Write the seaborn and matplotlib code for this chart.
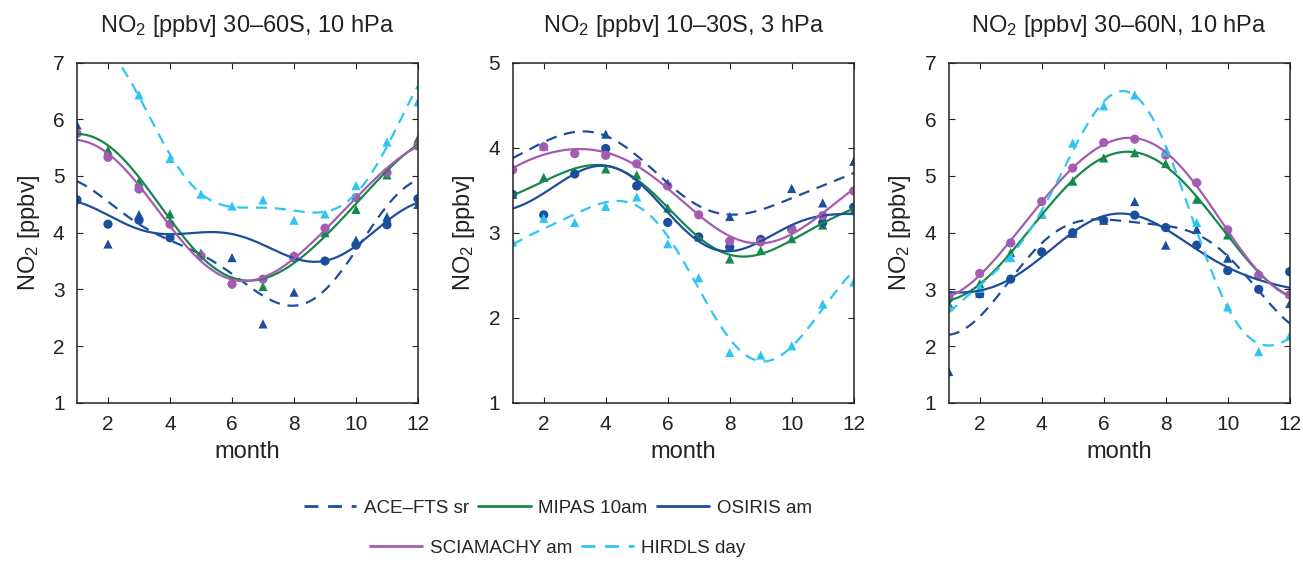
import numpy as np
import matplotlib
matplotlib.use('Agg')
import matplotlib.pyplot as plt
import seaborn as sns
from matplotlib.lines import Line2D

months = np.arange(1, 13)
nan = np.nan

titles = [r'NO$_\mathregular{2}$ [ppbv] 30–60S, 10 hPa',
          r'NO$_\mathregular{2}$ [ppbv] 10–30S, 3 hPa',
          r'NO$_\mathregular{2}$ [ppbv] 30–60N, 10 hPa']
ylims = [(1, 7), (1, 5), (1, 7)]

# 30-60S, 10 hPa
ace_1 = [5.9, 3.8, 4.32, nan, nan, 3.56, 2.39, 2.95, nan, 3.87, 4.28, 4.5]
mipas_1 = [5.8, 5.46, 4.9, 4.33, 3.64, 3.16, 3.05, 3.6, 4.0, 4.41, 5.02, 5.66]
osiris_1 = [4.58, 4.15, 4.22, 3.91, nan, nan, nan, 3.56, 3.5, 3.78, 4.14, 4.6]
sciamachy_1 = [5.75, 5.33, 4.77, 4.15, 3.59, 3.09, 3.18, 3.58, 4.08, 4.62, 5.06, 5.53]
hirdls_1 = [7.5, 7.2, 6.43, 5.31, 4.68, 4.47, 4.58, 4.22, 4.33, 4.83, 5.6, 6.31]

# 10-30S, 3 hPa
ace_2 = [nan, 4.02, nan, 4.16, nan, 3.58, nan, 3.19, nan, 3.52, 3.35, 3.84]
mipas_2 = [3.45, 3.65, 3.72, 3.75, 3.68, 3.29, 2.95, 2.69, 2.79, 2.93, 3.09, 3.26]
osiris_2 = [3.45, 3.21, 3.69, 3.99, 3.55, 3.12, 2.95, 2.83, 2.92, 3.04, 3.12, 3.3]
sciamachy_2 = [3.74, 4.01, 3.93, 3.91, 3.81, 3.55, 3.21, 2.9, 2.89, 3.04, 3.2, 3.49]
hirdls_2 = [2.89, 3.17, 3.12, 3.31, 3.42, 2.87, 2.47, 1.59, 1.56, 1.67, 2.16, 2.42]

# 30-60N, 10 hPa
ace_3 = [1.55, 2.93, nan, nan, 3.99, 4.22, 4.55, 3.78, 4.06, 3.55, nan, 2.75]
mipas_3 = [2.75, 3.1, 3.65, 4.33, 4.91, 5.32, 5.41, 5.22, 4.59, 3.96, 3.28, 2.94]
osiris_3 = [2.84, 2.92, 3.18, 3.66, 4.0, 4.22, 4.31, 4.09, 3.78, 3.33, 3.0, 3.31]
sciamachy_3 = [2.87, 3.28, 3.82, 4.55, 5.14, 5.59, 5.65, 5.37, 4.88, 4.05, 3.25, 2.9]
hirdls_3 = [2.69, 3.02, 3.56, 4.34, 5.58, 6.24, 6.43, 5.43, 4.18, 2.69, 1.9, 2.18]

names = ['ACE–FTS sr', 'MIPAS 10am', 'OSIRIS am', 'SCIAMACHY am', 'HIRDLS day']
colors = ['#1c4e9e', '#16884a', '#1c4e9e', '#a45cb2', '#30c4f2']
styles = ['--', '-', '-', '-', '--']
markers = ['^', '^', 'o', 'o', '^']

panels = [[ace_1, mipas_1, osiris_1, sciamachy_1, hirdls_1],
          [ace_2, mipas_2, osiris_2, sciamachy_2, hirdls_2],
          [ace_3, mipas_3, osiris_3, sciamachy_3, hirdls_3]]


def harmonic_fit(vals, t):
    # mean + annual + semiannual cycle, least squares on the monthly values
    vals = np.asarray(vals, dtype=float)
    ok = ~np.isnan(vals)

    def design(x):
        w = 2 * np.pi * np.asarray(x) / 12.0
        return np.column_stack([np.ones_like(w), np.cos(w), np.sin(w),
                                np.cos(2 * w), np.sin(2 * w)])
    coef, *_ = np.linalg.lstsq(design(months[ok]), vals[ok], rcond=None)
    return design(t) @ coef


sns.set_style('ticks')
plt.rcParams['font.family'] = ['Liberation Sans', 'DejaVu Sans']
plt.rcParams['mathtext.fontset'] = 'custom'
plt.rcParams['mathtext.rm'] = 'Liberation Sans'
plt.rcParams['mathtext.it'] = 'Liberation Sans:italic'

fig = plt.figure(figsize=(13.03, 5.62), dpi=100)
lefts = [0.0591, 0.3935, 0.7281]
t = np.linspace(1, 12, 300)
txt = '#222222'

for p in range(3):
    ax = fig.add_axes([lefts[p], 0.2835, 0.2617, 0.605])
    for s in range(5):
        vals = np.asarray(panels[p][s], dtype=float)
        fit = harmonic_fit(vals, t)
        kw = dict(dashes=(5, 3.5)) if styles[s] == '--' else {}
        ax.plot(t, fit, color=colors[s], lw=1.6, **kw)
        sns.scatterplot(x=months, y=vals, ax=ax, color=colors[s],
                        marker=markers[s], s=44, edgecolor='none', legend=False)
    ax.set_xlim(1, 12)
    ax.set_ylim(*ylims[p])
    ax.set_xticks([2, 4, 6, 8, 10, 12])
    ax.set_yticks(np.arange(ylims[p][0], ylims[p][1] + 1))
    ax.tick_params(direction='in', length=4, width=0.8, top=True, right=True,
                   labelsize=15, colors=txt, pad=9)
    for sp in ax.spines.values():
        sp.set_linewidth(1.1)
        sp.set_color(txt)
    ax.set_title(titles[p], fontsize=17, pad=22, color=txt)
    ax.set_xlabel('month', fontsize=17, labelpad=5, color=txt)
    ax.set_ylabel(r'NO$_\mathregular{2}$ [ppbv]', fontsize=17, labelpad=8,
                  color=txt)

handles = []
for s in range(5):
    kw = dict(dashes=(5, 3.5)) if styles[s] == '--' else {}
    handles.append(Line2D([], [], color=colors[s], lw=2, **kw))

leg_kw = dict(frameon=False, fontsize=13.5, handlelength=2.8,
              handletextpad=0.4, columnspacing=0.5)
fig.legend(handles[:3], names[:3], loc='center', ncol=3,
           bbox_to_anchor=(0.428, 0.096), **leg_kw)
fig.legend(handles[3:], names[3:], loc='center', ncol=2,
           bbox_to_anchor=(0.428, 0.025), **leg_kw)

fig.savefig('out.png', dpi=100)
